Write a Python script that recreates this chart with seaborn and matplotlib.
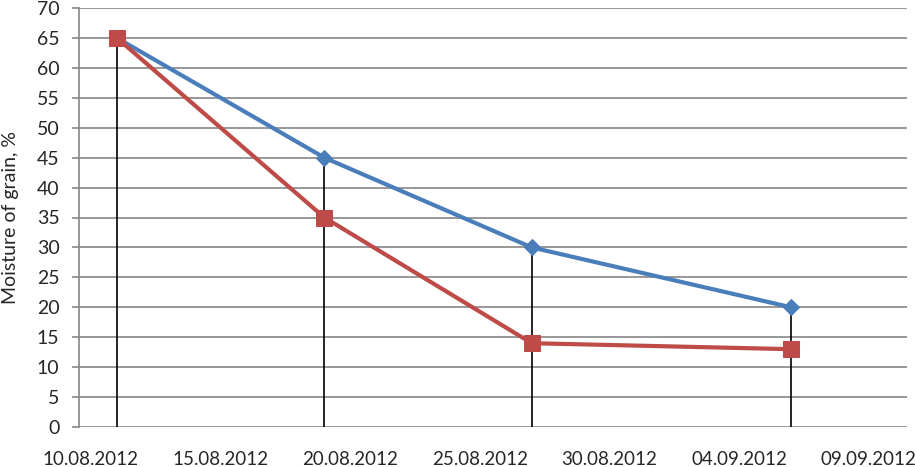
import matplotlib
matplotlib.use("Agg")
import matplotlib.pyplot as plt
import matplotlib.dates as mdates
import numpy as np
import pandas as pd
import seaborn as sns

# ─── Data ───────────────────────────────────────────────────────────────────
dates = ["2012-08-11", "2012-08-19", "2012-08-27", "2012-09-06"]
moisture_blue = [65, 45, 30, 20]
moisture_red = [65, 35, 14, 13]
tick_dates = ["2012-08-10", "2012-08-15", "2012-08-20", "2012-08-25",
              "2012-08-30", "2012-09-04", "2012-09-09"]

BLUE = "#4A7EBB"
RED = "#BE4B48"
GRID = "#868686"

sns.set_theme(style="white")
plt.rcParams["font.family"] = ["Lato", "DejaVu Sans"]

df = pd.DataFrame({
    "date": pd.to_datetime(dates * 2),
    "moisture": moisture_blue + moisture_red,
    "series": ["blue"] * len(dates) + ["red"] * len(dates),
})

fig = plt.figure(figsize=(9.15, 4.67), dpi=100)
ax = fig.add_axes([79 / 915, 1 - 427 / 467, (907 - 79) / 915, (427 - 8) / 467])

# drop lines from the axis up to the highest point
top = np.maximum(moisture_blue, moisture_red)
ax.vlines(pd.to_datetime(dates), 0, top, color="black", linewidth=1.2, zorder=2)

sns.lineplot(data=df[df.series == "blue"], x="date", y="moisture", ax=ax,
             color=BLUE, linewidth=3, marker="D", markersize=8,
             markeredgecolor=BLUE, zorder=4)
sns.lineplot(data=df[df.series == "red"], x="date", y="moisture", ax=ax,
             color=RED, linewidth=3, marker="s", markersize=11,
             markeredgecolor=RED, zorder=5)

t0 = pd.Timestamp("2012-08-10")
ax.set_xlim(t0 - pd.Timedelta(days=0.46), t0 + pd.Timedelta(days=31.47))
ax.set_ylim(0, 70)
ax.set_yticks(range(0, 71, 5))
ax.set_xticks(pd.to_datetime(tick_dates))
ax.xaxis.set_major_formatter(mdates.DateFormatter("%d.%m.%Y"))

ax.grid(axis="y", color=GRID, linewidth=1.2, zorder=0)
ax.set_axisbelow(True)
for side in ["top", "right", "bottom"]:
    ax.spines[side].set_visible(False)
ax.spines["left"].set_color(GRID)
ax.spines["left"].set_linewidth(1.2)

ax.tick_params(axis="y", which="major", length=5, width=1.2, color=GRID,
               pad=9, labelsize=14, left=True)
ax.tick_params(axis="x", which="major", length=0, pad=17, labelsize=13.5)

ax.set_xlabel("")
ax.set_ylabel("Moisture of grain, %", fontsize=14, va="center")
ax.yaxis.set_label_coords((11 - 79) / 828, 0.5)

fig.savefig("out.png", dpi=100)
